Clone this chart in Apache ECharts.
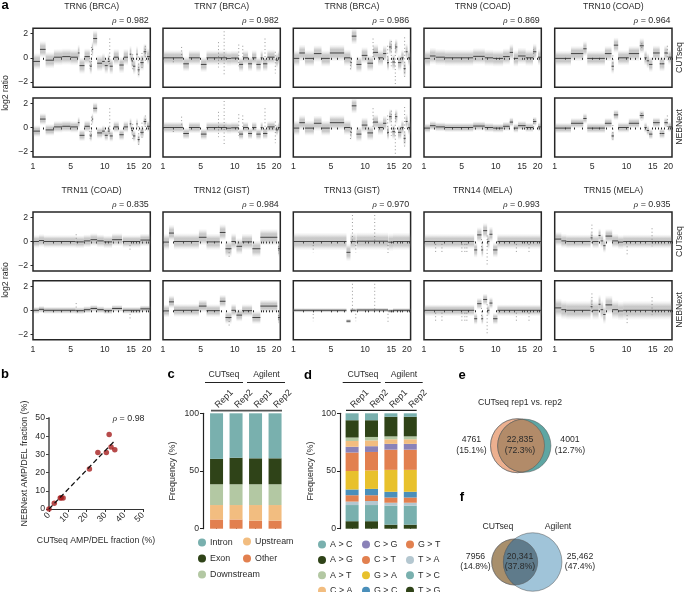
<!DOCTYPE html>
<html><head><meta charset="utf-8">
<style>html,body{margin:0;padding:0;background:#fff}#c{width:685px;height:592px}</style>
<script src="https://cdn.jsdelivr.net/npm/echarts@6/dist/echarts.min.js"></script>
</head><body><div id="c"></div>
<script>
// ---------- DATA ----------
const samples = ['TRN6 (BRCA)','TRN7 (BRCA)','TRN8 (BRCA)','TRN9 (COAD)','TRN10 (COAD)','TRN11 (COAD)','TRN12 (GIST)','TRN13 (GIST)','TRN14 (MELA)','TRN15 (MELA)'];
const rhoValues = ['0.982','0.982','0.986','0.869','0.964','0.835','0.984','0.970','0.993','0.935'];
// genome position (0-353), tick marks per chromosome
const chromTicks = [0,31,60,84,113,133,154,174,191,216,226,243,258,272,295,302,312,321,329,342,348,353];
const chromLabels = {0:'1',113:'5',216:'10',295:'15',342:'20'};
// segments: [start, end, log2 ratio]
const seg6 = [[0,21,-.3],[21,38,.7],[38,63,-.2],[63,88,.05],[88,113,.1],[113,135,.05],[135,140,.4],[140,155,-.65],[155,171,.1],[171,177,-.7],[177,181,.7],[181,193,1.6],[193,208,-.45],[208,216,-.3],[216,225,-.65],[225,231,-.3],[231,240,-.7],[243,258,.05],[260,273,-.6],[273,286,.05],[291,296,.3],[296,301,-.25],[301,308,-.7],[311,315,.3],[315,321,-1],[323,333,-.4],[333,341,.5],[343,353,.1]];
const seg7 = [[0,21,0],[21,36,0],[36,60,0],[61,78,-.5],[78,111,0],[114,131,-.55],[131,163,0],[163,192,0],[192,205,-.05],[205,227,-.02],[229,241,-.55],[241,256,0],[256,268,-.5],[268,281,0],[281,294,-.55],[294,300,0],[301,314,-.5],[314,336,.05],[339,346,-.2],[346,352,0]];
const seg8 = [[0,18,-.05],[18,35,.4],[35,62,-.05],[62,85,.35],[85,110,-.05],[110,153,.4],[153,172,0],[172,176,-.4],[176,190,1.8],[190,205,-.55],[206,223,.2],[223,240,-.45],[240,255,.45],[255,270,0],[270,280,.35],[282,288,-.4],[288,296,.9],[298,306,-.35],[306,313,.9],[315,325,-.4],[325,332,0],[332,338,-.9],[338,344,.5],[345,353,0]];
const seg9 = [[0,18,-.05],[18,35,.15],[35,63,.05],[63,148,0],[148,183,.12],[183,208,0],[208,238,-.05],[238,258,.1],[258,268,.45],[270,283,-.05],[283,306,.15],[306,328,0],[328,338,.5],[343,352,.05]];
const seg10 = [[0,49,-.05],[49,86,.35],[86,96,.75],[98,151,-.05],[151,171,.35],[171,178,-.7],[178,191,1.05],[191,223,0],[223,254,.35],[256,268,1.0],[270,277,0],[277,284,-.25],[284,294,-.55],[296,316,.4],[316,322,-.5],[322,330,-.5],[330,340,.4],[342,353,.05]];
const seg11 = [[0,18,0],[18,33,.08],[33,128,0],[128,153,-.03],[153,173,.05],[173,193,.15],[193,213,.05],[213,238,-.03],[238,268,.15],[270,298,0],[298,323,0],[323,353,.12]];
const seg12 = [[0,18,-.05],[18,33,.7],[33,108,0],[108,131,.35],[131,171,-.03],[171,188,.75],[188,206,-.6],[206,219,0],[221,238,-.4],[238,268,-.03],[269,293,-.6],[293,344,.35],[346,352,-.6]];
const seg13 = [[0,160,0],[160,172,-.9],[172,188,0],[190,285,.02],[286,300,-.05],[300,353,0]];
const seg14 = [[0,151,0],[151,160,-.7],[160,173,.55],[173,178,-.7],[178,190,.9],[190,197,0],[197,206,.6],[208,221,-.7],[221,353,0]];
const seg15 = [[0,20,.2],[20,35,.05],[35,108,0],[108,114,.3],[114,132,0],[132,138,.5],[138,146,.05],[146,153,-.35],[153,173,.45],[173,191,.05],[191,206,-.05],[206,353,0]];
const segments = [seg6,seg7,seg8,seg9,seg10,seg11,seg12,seg13,seg14,seg15];
// outlier columns: [position, low, high]
const out6 = [[231,-.5,1.6],[176,-.7,.9],[171,-.9,0],[300,-1,.3],[318,-1.5,.1],[328,-.9,.4],[338,-.3,1.0]];
const out7 = [[31,-.5,0],[56,0,.9],[167,-.8,1.3],[184,-1.4,2.2],[228,-.7,1.1],[240,0,1.0],[307,-.5,1.6],[338,-1.3,.5]];
const out8 = [[172,-1,0],[240,0,1.6],[284,-.7,1.0],[295,-.7,1.4],[307,-2.2,1.1],[335,-1.6,1.7]];
const out9 = [[330,0,.7]];
const out10 = [[175,-1,.2],[262,.6,1.2],[339,-.2,1.0]];
const out11 = [[130,.2,.6],[292,-.7,-.3]];
const out12 = [[199,-1.3,-.6],[348,-1,-.4]];
const out13 = [[178,-.1,2.2],[188,-.9,0],[245,0,2.2],[285,-.95,0],[60,-.9,-.3]];
const out14 = [[35,-.9,-.2],[54,-.9,-.2],[114,-.9,-.2],[123,-.9,-.2],[129,-.9,-.2],[173,-.9,.2],[190,-2.1,.5],[278,-.9,-.2],[316,-.9,-.2]];
const out15 = [[112,-.3,1.4],[293,-.4,1.1],[218,-1.1,-.4]];
const outliers = [out6,out7,out8,out9,out10,out11,out12,out13,out14,out15];
// noise half-width per sample
const spreadCUTseq = [.7,.65,.7,.7,.65,.55,.7,.75,.65,.6];
const spreadNEBNext = [.5,.5,.65,.4,.45,.3,.55,.2,.5,.8];

// panel b
const scatterCUT = [0,2.8,6,6.5,7.5,21.5,26,30.5,32,33,35];
const scatterNEB = [0,3.2,6,6.2,6,22,31,31,41,34,32.5];
const fitX = [0,34.5];
const fitY = [0,37];

// panel c
const repCats = ['Rep1','Rep2','Rep1','Rep2'];
const cOther = [8,8,7,7];
const cUpstream = [12.5,12.5,13.5,13.5];
const cDownstream = [18,18,18,18];
const cExon = [22,23,22.5,22.5];
const cIntron = [39.5,38.5,39,39];

// panel d (bottom to top)
const dTG = [6.5,6.5,3.5,3.5];
const dTC = [14,14,16.5,16.5];
const dTA = [3,3.5,2.5,2.5];
const dGT = [5.5,5,4.5,4.5];
const dGC = [5,5.5,5,5];
const dGA = [16,16,19,19];
const dCT = [16,16,17.5,17.5];
const dCG = [5,5,5,5];
const dCA = [5,5,4,4];
const dAT = [3,3,2.5,2.5];
const dAG = [15,14.5,17,17];
const dAC = [6,6,3,3];

// panels e, f: [only left, overlap, only right]
const vennE = [4761,22835,4001];
const vennF = [7956,20341,25462];

// ---------- LAYOUT ----------
const FONT = '"Liberation Sans", Arial, sans-serif';
const TXT = '#2b2b2b';
const FS = 8.7;
const colX = [33,163,293.3,424,554.7];
const rowY = [28.3,98,212,280.8];
const PW = 117.3, PH = 59;

const grid=[], xAxis=[], yAxis=[], series=[], graphic=[];
function addText(x,y,text,o){
  graphic.push(Object.assign({type:'text',x,y,silent:true,
    rotation:(o&&o.rot)||0,
    style:Object.assign({text,fill:(o&&o.fill)||TXT,font:((o&&o.weight)||'')+' '+((o&&o.size)||FS)+'px '+FONT,
      textAlign:(o&&o.align)||'center',textVerticalAlign:'middle',rich:(o&&o.rich)||undefined})},{z:20}));
}
function addLine(x1,y1,x2,y2,color,w){
  graphic.push({type:'line',silent:true,shape:{x1,y1,x2,y2},style:{stroke:color||'#222',lineWidth:w||1},z:20});
}

function bandItem(params,api){
  const x0=api.value(0),x1=api.value(1),v=api.value(2),s=api.value(3);
  const a=api.coord([x0,v+s]),b=api.coord([x1,v-s]),m=api.coord([x0,v]),e=api.coord([x1,v]);
  return {type:'group',children:[
    {type:'rect',shape:{x:a[0],y:a[1],width:b[0]-a[0],height:b[1]-a[1]},
      style:{fill:new echarts.graphic.LinearGradient(0,0,0,1,[
        {offset:0,color:'rgba(130,130,130,0)'},{offset:.12,color:'rgba(130,130,130,.12)'},
        {offset:.3,color:'rgba(125,125,125,.42)'},{offset:.7,color:'rgba(125,125,125,.42)'},
        {offset:.88,color:'rgba(130,130,130,.12)'},{offset:1,color:'rgba(130,130,130,0)'}])}},
    {type:'line',shape:{x1:m[0],y1:m[1],x2:e[0],y2:e[1]},style:{stroke:'#333',lineWidth:.9}}
  ]};
}
function outlierItem(params,api){
  const a=api.coord([api.value(0),api.value(2)]),b=api.coord([api.value(0),api.value(1)]);
  return {type:'line',shape:{x1:a[0],y1:a[1],x2:b[0],y2:b[1]},style:{stroke:'#555',lineWidth:.8,lineDash:[1,2.5],opacity:.75}};
}

function addPanel(s,row){
  const c=s%5, r=(s<5?0:2)+row, idx=grid.length;
  const lower=row===1;
  grid.push({left:colX[c],top:rowY[r],width:PW,height:PH,show:true,borderColor:'#262626',borderWidth:1.5,backgroundColor:'#fff'});
  xAxis.push({type:'value',gridIndex:idx,min:0,max:353,splitLine:{show:false},axisLine:{show:false},
    axisTick:{show:true,length:2,customValues:chromTicks,lineStyle:{color:'#262626',width:1}},
    axisLabel:{show:lower,customValues:Object.keys(chromLabels).map(Number),fontSize:FS,color:TXT,fontFamily:FONT,margin:5,hideOverlap:false,showMinLabel:true,showMaxLabel:true,formatter:v=>chromLabels[v]||''}});
  yAxis.push({type:'value',gridIndex:idx,min:-2.45,max:2.45,splitLine:{show:false},axisLine:{show:false},
    axisTick:{show:c===0,length:2.5,customValues:[-2,0,2],lineStyle:{color:'#262626'}},
    axisLabel:{show:c===0,customValues:[-2,0,2],fontSize:FS,color:TXT,fontFamily:FONT,margin:5,formatter:v=>v<0?'\u2212'+(-v):String(v)}});
  const spread=(row===0?spreadCUTseq:spreadNEBNext)[s];
  series.push({type:'custom',xAxisIndex:idx,yAxisIndex:idx,silent:true,clip:true,renderItem:bandItem,
    encode:{x:[0,1],y:2},data:segments[s].map(d=>[d[0],d[1],d[2],spread])});
  series.push({type:'custom',xAxisIndex:idx,yAxisIndex:idx,silent:true,clip:true,renderItem:outlierItem,
    encode:{x:0,y:[1,2]},data:outliers[s]});
}
for(let s=0;s<10;s++){ addPanel(s,0); addPanel(s,1); }

// titles + rho
const rich={i:{fontStyle:'italic',fontSize:9,fontFamily:'"Liberation Serif",serif',fill:TXT},n:{fontSize:FS+.2,fontFamily:FONT,fill:TXT}};
samples.forEach((t,s)=>{
  const c=s%5, x=colX[c]+PW/2;
  addText(x,s<5?6.5:191,t,{});
  addText(colX[c]+PW-1.5,s<5?20.5:204.5,'{i|\u03C1}{n| = '+rhoValues[s]+'}',{align:'right',rich});
});
[[57.5,'CUTseq'],[127,'NEBNext'],[241.5,'CUTseq'],[310,'NEBNext']].forEach(d=>addText(680,d[0],d[1],{rot:Math.PI/2}));
addText(6,93,'log2 ratio',{rot:Math.PI/2});
addText(5.5,280,'log2 ratio',{rot:Math.PI/2});
[[5,5,'a'],[5,374.5,'b'],[171,374.5,'c'],[308,375,'d'],[462,375,'e'],[462,497,'f']].forEach(d=>addText(d[0],d[1],d[2],{size:13,weight:'bold',fill:'#000'}));

// ---------- panel b ----------
const gb=grid.length;
grid.push({left:49,top:418,width:94,height:91});
xAxis.push({type:'value',gridIndex:gb,min:0,max:50,interval:10,splitLine:{show:false},
  name:'CUTseq AMP/DEL fraction (%)',nameLocation:'middle',nameGap:27,nameTextStyle:{fontSize:FS,color:TXT,fontFamily:FONT},
  axisLine:{lineStyle:{color:'#333',width:1.2}},axisTick:{length:3,lineStyle:{color:'#333'}},
  axisLabel:{fontSize:FS,color:TXT,fontFamily:FONT,rotate:45,margin:5}});
yAxis.push({type:'value',gridIndex:gb,min:0,max:50,interval:10,splitLine:{show:false},
  name:'NEBNext AMP/DEL fraction (%)',nameLocation:'middle',nameGap:20,nameTextStyle:{fontSize:FS+.2,color:TXT,fontFamily:FONT},
  axisLine:{lineStyle:{color:'#666',width:1.8}},axisTick:{length:3,lineStyle:{color:'#444'}},
  axisLabel:{fontSize:FS,color:TXT,fontFamily:FONT,margin:4}});
series.push({type:'line',xAxisIndex:gb,yAxisIndex:gb,silent:true,symbol:'none',z:3,
  data:fitX.map((x,i)=>[x,fitY[i]]),lineStyle:{color:'#111',width:1.3,type:[5,3]}});
series.push({type:'scatter',xAxisIndex:gb,yAxisIndex:gb,silent:true,symbolSize:5.5,z:2,clip:false,
  data:scatterCUT.map((x,i)=>[x,scatterNEB[i]]),itemStyle:{color:'#a51e1e'}});
addText(144.5,419,'{i|\u03C1}{n| = 0.98}',{align:'right',rich});

// ---------- bar panels ----------
function barGrid(left,width,yOff,nameGap){
  const g=grid.length;
  grid.push({left,top:413.3,width,height:115.4});
  xAxis.push({type:'category',gridIndex:g,position:'top',offset:2.8,data:repCats,axisLine:{show:false},
    axisTick:{show:true,alignWithLabel:true,length:2,lineStyle:{color:'#222'}},
    axisLabel:{fontSize:FS+.3,color:TXT,fontFamily:FONT,rotate:45,margin:4,interval:0}});
  yAxis.push({type:'value',gridIndex:g,min:0,max:100,interval:50,offset:yOff,splitLine:{show:false},
    name:'Frequency (%)',nameLocation:'middle',nameGap,nameTextStyle:{fontSize:FS+.3,color:TXT,fontFamily:FONT},
    axisLine:{show:true,lineStyle:{color:'#222',width:1.2}},axisTick:{show:true,length:3,lineStyle:{color:'#222'}},
    axisLabel:{fontSize:FS,color:TXT,fontFamily:FONT,margin:4}});
  return g;
}
function stack(g,key,defs){
  defs.forEach(d=>series.push({type:'bar',name:d[0],stack:key,xAxisIndex:g,yAxisIndex:g,data:d[1],barWidth:13,silent:true,
    itemStyle:{color:d[2]}}));
}
const GREEN='#2f4318',TEAL='#79b0ae',SAGE='#b3c8a3',PEACH='#f2bd80',ORANGE='#e2804f',PURPLE='#8a82b8',YEL='#e8c12c',BLUE='#4a8fba',PALE='#b4c7d0';
const gc=barGrid(206.8,78,3.8,26);
stack(gc,'c',[['Other',cOther,ORANGE],['Upstream',cUpstream,PEACH],['Downstream',cDownstream,SAGE],['Exon',cExon,GREEN],['Intron',cIntron,TEAL]]);
const gd=barGrid(342.4,77.6,2.4,25);
stack(gd,'d',[['T > G',dTG,GREEN],['T > C',dTC,TEAL],['T > A',dTA,PALE],['G > T',dGT,ORANGE],['G > C',dGC,BLUE],['G > A',dGA,YEL],['C > T',dCT,ORANGE],['C > G',dCG,PURPLE],['C > A',dCA,PEACH],['A > T',dAT,SAGE],['A > G',dAG,GREEN],['A > C',dAC,TEAL]]);
addLine(211,410.6,282,410.6,'#555',1.8);
addLine(346,410.4,416.7,410.4,'#222',1.2);
[[205,243,224,'CUTseq'],[247,285,266.5,'Agilent'],[342.7,380.7,363,'CUTseq'],[385,422.7,404,'Agilent']].forEach(d=>{
  addLine(d[0],382.5,d[1],382.5,'#222',1);
  addText(d[2],374.5,d[3],{});
});
function leg(data,left,top,gap){
  return {data,left,top,height:70,orient:'vertical',padding:0,itemGap:gap,itemWidth:8,itemHeight:8,icon:'circle',selectedMode:false,
    textStyle:{fontSize:FS+.2,color:TXT,fontFamily:FONT,padding:[0,0,0,-1]}};
}
const legend=[leg(['Intron','Exon','Downstream'],198,538,7),leg(['Upstream','Other'],243,537,8),
  leg(['A > C','A > G','A > T','C > A'],318,540,6.4),leg(['C > G','C > T','G > A','G > C'],362,540,6.4),leg(['G > T','T > A','T > C','T > G'],406,540,6.4)];

// ---------- Venn panels (geometry solved from the counts) ----------
function lens(r1,r2,d){
  if(d>=r1+r2) return 0;
  if(d<=Math.abs(r1-r2)) return Math.PI*Math.min(r1,r2)**2;
  const a=r1*r1*Math.acos((d*d+r1*r1-r2*r2)/(2*d*r1));
  const b=r2*r2*Math.acos((d*d+r2*r2-r1*r1)/(2*d*r2));
  const c=.5*Math.sqrt((-d+r1+r2)*(d+r1-r2)*(d-r1+r2)*(d+r1+r2));
  return a+b-c;
}
function venn(counts,r1,cx1,cy,cols){
  const A=counts[0]+counts[1],B=counts[1]+counts[2];
  const scale=Math.PI*r1*r1/A, r2=Math.sqrt(B*scale/Math.PI), target=counts[1]*scale;
  let lo=Math.abs(r1-r2),hi=r1+r2;
  for(let i=0;i<50;i++){const m=(lo+hi)/2; if(lens(r1,r2,m)>target) lo=m; else hi=m;}
  const d=(lo+hi)/2, cx2=cx1+d;
  return {type:'group',children:[
    {type:'circle',shape:{cx:cx1,cy,r:r1},style:{fill:cols[0],stroke:'#777',lineWidth:.5}},
    {type:'circle',shape:{cx:cx2,cy,r:r2},style:{fill:cols[1],stroke:'#555',lineWidth:.5}},
    {type:'circle',shape:{cx:cx2,cy,r:r2},style:{fill:cols[2],stroke:'#555',lineWidth:.5},
      clipPath:{type:'circle',shape:{cx:cx1,cy,r:r1}}},
    {type:'circle',shape:{cx:cx1,cy,r:r1},style:{fill:'none',stroke:'#555',lineWidth:.5}}
  ]};
}
series.push({type:'custom',coordinateSystem:'none',silent:true,data:[0],clip:false,z:5,
  renderItem:()=>({type:'group',children:[
    venn(vennE,27,517.5,445.7,['#ecb08f','#5ea6a3','#b28b69']),
    venn(vennF,23,514.7,562,['#a88f6c','#a0c4d9','#5f7b8b'])
  ]})});
addText(520,403,'CUTseq rep1 vs. rep2',{});
[[471.5,'4761','(15.1%)'],[520,'22,835','(72.3%)'],[570,'4001','(12.7%)']].forEach(d=>{addText(d[0],440,d[1],{});addText(d[0],451,d[2],{});});
addText(498,526.5,'CUTseq',{}); addText(558,526.5,'Agilent',{});
[[475.5,'7956','(14.8%)'],[520,'20,341','(37.8%)'],[580,'25,462','(47.4%)']].forEach(d=>{addText(d[0],556.5,d[1],{});addText(d[0],567,d[2],{});});

const chart=echarts.init(document.getElementById('c'),null,{renderer:'canvas'});
chart.setOption({animation:false,backgroundColor:'#fff',textStyle:{fontFamily:FONT},grid,xAxis,yAxis,series,legend,graphic:{elements:graphic}});
</script></body></html>
